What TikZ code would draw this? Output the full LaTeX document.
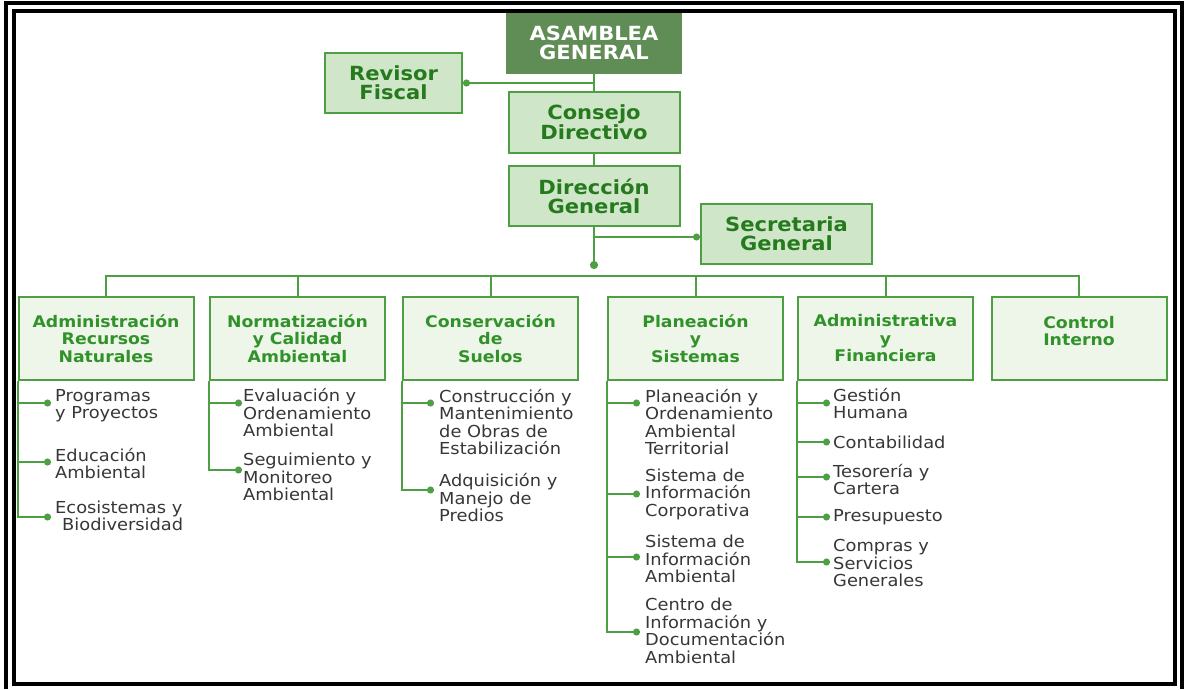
\documentclass[tikz,border=0pt]{standalone}
\usepackage{fontspec}
\setmainfont{DejaVu Sans}[FakeStretch=1.08]
\usetikzlibrary{arrows.meta}

\definecolor{orgline}{RGB}{78,158,68}
\definecolor{topfill}{RGB}{208,230,200}
\definecolor{unitfill}{RGB}{238,246,234}
\definecolor{asfill}{RGB}{96,140,86}
\definecolor{toptext}{RGB}{38,122,30}
\definecolor{unittext}{RGB}{50,146,42}
\definecolor{itemtext}{RGB}{55,55,55}

\tikzset{
  topbox/.style={draw=orgline, line width=2pt, fill=topfill, text=toptext,
    font=\bfseries\fontsize{19.5}{19}\selectfont, align=center,
    minimum width=171pt, minimum height=61pt, inner sep=0pt},
  unitbox/.style={draw=orgline, line width=2pt, fill=unitfill, text=unittext,
    font=\bfseries\fontsize{16}{17.5}\selectfont, align=center,
    minimum width=175pt, minimum height=83pt, inner sep=0pt},
  item/.style={anchor=west, align=left, text=itemtext,
    font=\fontsize{16.5}{17.5}\selectfont, inner sep=0pt},
  link/.style={draw=orgline, line width=2pt},
  dotlink/.style={link, -{Circle[length=7pt]}}
}

\begin{document}
\begin{tikzpicture}[x=1pt,y=-1pt]
			%%%%% START %%%%%
			\useasboundingbox (0,0) rectangle (1184,689);
			
			% upper levels
			\node[topbox, fill=asfill, draw=asfill, text=white, minimum width=174pt, minimum height=60pt] (asamblea) at (594,43) {ASAMBLEA\\GENERAL};
			\node[topbox, minimum width=137pt, minimum height=60pt] (revisor) at (393.5,83) {Revisor\\Fiscal};
			\node[topbox] (consejo) at (594,122.5) {Consejo\\Directivo};
			\node[topbox, minimum height=60pt] (direccion) at (594,196) {Dirección\\General};
			\node[topbox, minimum height=60pt] (secretaria) at (786.5,234) {Secretaria\\General};
			
			\coordinate (rj) at (594,83);
			\coordinate (sj) at (594,237);
			\coordinate (busdot) at (594,269);
			\coordinate (bus) at (0,276);
			
			\draw[link] (asamblea) -- (consejo);
			\draw[dotlink] (rj) -- (revisor.east);
			\draw[link] (consejo) -- (direccion);
			\draw[link, -{Circle[length=8pt]}] (direccion) -- (busdot);
			\draw[dotlink] (sj) -- (secretaria.west |- sj);
			
			% units
			\node[unitbox] (arn) at (106,338.5) {Administración\\Recursos\\Naturales};
			\node[unitbox] (nca) at (297.5,338.5) {Normatización\\y Calidad\\Ambiental};
			\node[unitbox] (cds) at (490.5,338.5) {Conservación\\de\\Suelos};
			\node[unitbox] (pys) at (695.5,338.5) {Planeación\\y\\Sistemas};
			\node[unitbox] (ayf) at (885.5,338.5) {Administrativa\\y\\Financiera};
			\node[unitbox] (cin) at (1079,338.5) {\raisebox{5pt}[\height][\depth]{\begin{tabular}{@{}c@{}}Control\\Interno\end{tabular}}};
			
			\draw[link] (arn.north) -- (arn.north |- bus) -- (cin.north |- bus) -- (cin.north);
			\draw[link] (nca.north) -- (nca.north |- bus);
			\draw[link] (cds.north) -- (cds.north |- bus);
			\draw[link] (pys.north) -- (pys.north |- bus);
			\draw[link] (ayf.north) -- (ayf.north |- bus);
			
			% Administracion Recursos Naturales
			\coordinate (d11) at (51,403);
			\coordinate (d12) at (51,462);
			\coordinate (d13) at (51,517);
			\node[item] (i11) at (55,405.5) {Programas\\y Proyectos};
			\node[item] (i12) at (55,463.5) {Educación\\Ambiental};
			\node[item] (i13) at (55,516) {Ecosistemas y\\\hspace*{7pt}Biodiversidad};
			\draw[dotlink] (arn.south west) |- (d11);
			\draw[dotlink] (arn.south west) |- (d12);
			\draw[dotlink] (arn.south west) |- (d13);
			
			% Normatizacion
			\coordinate (d21) at (242,403);
			\coordinate (d22) at (242,470);
			\node[item] (i21) at (243,413) {Evaluación y\\Ordenamiento\\Ambiental};
			\node[item] (i22) at (243,477) {Seguimiento y\\Monitoreo\\Ambiental};
			\draw[dotlink] (nca.south west) |- (d21);
			\draw[dotlink] (nca.south west) |- (d22);
			
			% Conservacion de Suelos
			\coordinate (d31) at (434,403);
			\coordinate (d32) at (434,490);
			\node[item] (i31) at (439,422) {Construcción y\\Mantenimiento\\de Obras de\\Estabilización};
			\node[item] (i32) at (439,498) {Adquisición y\\Manejo de\\Predios};
			\draw[dotlink] (cds.south west) |- (d31);
			\draw[dotlink] (cds.south west) |- (d32);
			
			% Planeacion y Sistemas
			\coordinate (d41) at (640,403);
			\coordinate (d42) at (640,494);
			\coordinate (d43) at (640,557);
			\coordinate (d44) at (640,632);
			\node[item] (i41) at (645,422) {Planeación y\\Ordenamiento\\Ambiental\\Territorial};
			\node[item] (i42) at (645,494) {Sistema de\\Información\\Corporativa};
			\node[item] (i43) at (645,559) {Sistema de\\Información\\Ambiental};
			\node[item] (i44) at (645,631) {Centro de\\Información y\\Documentación\\Ambiental};
			\draw[dotlink] (pys.south west) |- (d41);
			\draw[dotlink] (pys.south west) |- (d42);
			\draw[dotlink] (pys.south west) |- (d43);
			\draw[dotlink] (pys.south west) |- (d44);
			
			% Administrativa y Financiera
			\coordinate (d51) at (830,403);
			\coordinate (d52) at (830,442);
			\coordinate (d53) at (830,477);
			\coordinate (d54) at (830,517);
			\coordinate (d55) at (830,562);
			\node[item] (i51) at (833,403.5) {Gestión\\Humana};
			\node[item] (i52) at (833,442) {Contabilidad};
			\node[item] (i53) at (833,479.5) {Tesorería y\\Cartera};
			\node[item] (i54) at (833,517) {Presupuesto};
			\node[item] (i55) at (833,563) {Compras y\\Servicios\\Generales};
			\draw[dotlink] (ayf.south west) |- (d51);
			\draw[dotlink] (ayf.south west) |- (d52);
			\draw[dotlink] (ayf.south west) |- (d53);
			\draw[dotlink] (ayf.south west) |- (d54);
			\draw[dotlink] (ayf.south west) |- (d55);
			
			% frame
			\draw[line width=4pt] (6,689) -- (6,2.5) -- (1181.5,2.5) -- (1181.5,689);
			\draw[line width=4pt] (14,11) rectangle (1175,684);
			
			%%%%% END %%%%%
		\end{tikzpicture}
\end{document}
